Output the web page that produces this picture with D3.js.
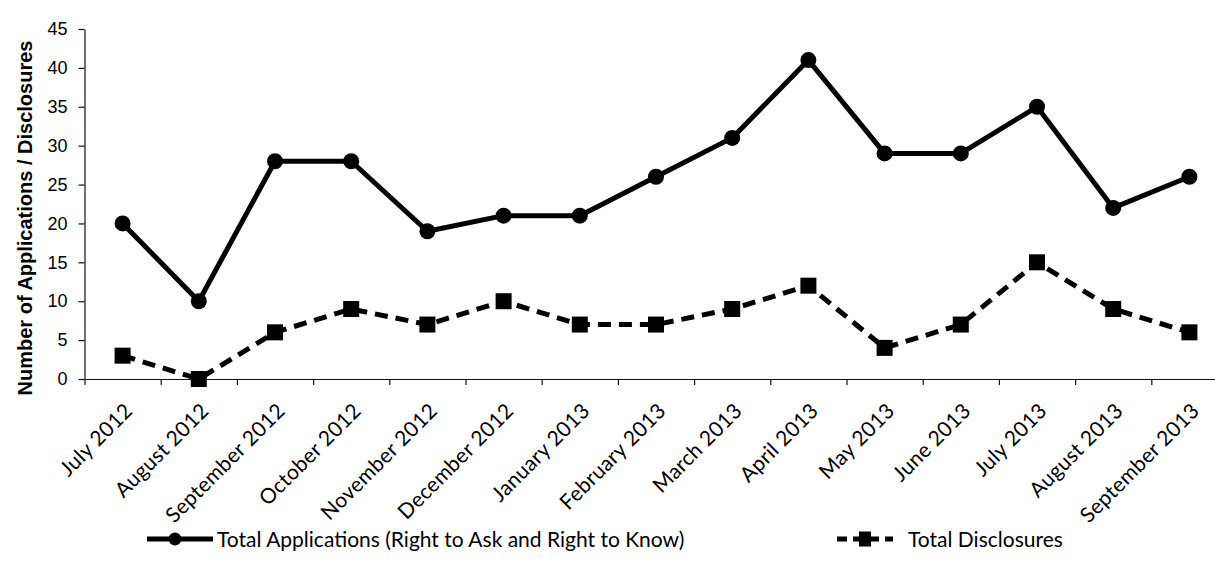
<!DOCTYPE html>
<html>
<head>
<meta charset="utf-8">
<script src="https://cdn.jsdelivr.net/npm/d3@7"></script>
<style>
  html, body { margin: 0; padding: 0; background: #fff; }
  svg { display: block; }
</style>
</head>
<body>
<svg id="chart" width="1215" height="566"></svg>
<script>
// Monthly counts, July 2012 – September 2013
const months = [
  "July 2012", "August 2012", "September 2012", "October 2012", "November 2012",
  "December 2012", "January 2013", "February 2013", "March 2013", "April 2013",
  "May 2013", "June 2013", "July 2013", "August 2013", "September 2013"
];
const applications = [20, 10, 28, 28, 19, 21, 21, 26, 31, 41, 29, 29, 35, 22, 26];
const disclosures = [3, 0, 6, 9, 7, 10, 7, 7, 9, 12, 4, 7, 15, 9, 6];
const yTicks = [0, 5, 10, 15, 20, 25, 30, 35, 40, 45];
const yTitle = "Number of Applications / Disclosures";
const legendLabels = ["Total Applications (Right to Ask and Right to Know)", "Total Disclosures"];

const svg = d3.select("#chart");
const step = 76.2;
const plotLeft = 84.5, plotTop = 29, plotBottom = 379;

const x = d3.scaleBand().domain(months).range([plotLeft, plotLeft + step * months.length]).padding(0);
const xEdge = d3.scaleLinear().domain([0, months.length]).range([plotLeft, plotLeft + step * months.length]);
const y = d3.scaleLinear().domain([0, 45]).range([plotBottom, plotTop]);
const cx = d => x(d) + x.bandwidth() / 2;

const labelFont = "Lato, 'Open Sans', sans-serif";
const axisFont = "'Liberation Sans', Arial, sans-serif";

// y axis
const yAxis = svg.append("g")
  .attr("transform", `translate(${plotLeft},0)`)
  .call(d3.axisLeft(y).tickValues(yTicks).tickSize(6).tickSizeOuter(0).tickPadding(11));
yAxis.select(".domain").attr("stroke", "#111").attr("stroke-width", 1.2);
yAxis.selectAll(".tick line").attr("stroke", "#111").attr("stroke-width", 1.2);
yAxis.selectAll(".tick text")
  .attr("font-family", axisFont).attr("font-size", 18).attr("fill", "#000");

// x axis line with ticks at category boundaries
const xAxis = svg.append("g")
  .attr("transform", `translate(0,${plotBottom})`)
  .call(d3.axisBottom(xEdge).tickValues(d3.range(months.length + 1)).tickSize(6).tickSizeOuter(0).tickFormat(""));
xAxis.select(".domain").attr("stroke", "#111").attr("stroke-width", 1.2);
xAxis.selectAll(".tick line").attr("stroke", "#111").attr("stroke-width", 1.2);

// rotated month labels
svg.append("g").selectAll("text")
  .data(months)
  .join("text")
  .attr("transform", d => `translate(${cx(d) + 6},${407}) rotate(-45)`)
  .attr("text-anchor", "end")
  .attr("dy", "0.35em")
  .attr("font-family", labelFont)
  .attr("font-size", 21)
  .attr("letter-spacing", "0.3px")
  .attr("fill", "#000")
  .text(d => d);

// y axis title
svg.append("text")
  .attr("transform", `translate(32,${(plotTop + plotBottom) / 2 + 14}) rotate(-90)`)
  .attr("text-anchor", "middle")
  .attr("font-family", axisFont)
  .attr("font-weight", "bold")
  .attr("font-size", 20)
  .attr("fill", "#000")
  .text(yTitle);

// series lines
const line = d3.line().x((d, i) => cx(months[i])).y(d => y(d));

svg.append("path")
  .datum(disclosures)
  .attr("d", line)
  .attr("fill", "none")
  .attr("stroke", "#000")
  .attr("stroke-width", 5)
  .attr("stroke-dasharray", "13,8");

svg.append("g").selectAll("rect")
  .data(disclosures)
  .join("rect")
  .attr("x", (d, i) => cx(months[i]) - 8)
  .attr("y", d => y(d) - 8)
  .attr("width", 16)
  .attr("height", 16)
  .attr("fill", "#000");

svg.append("path")
  .datum(applications)
  .attr("d", line)
  .attr("fill", "none")
  .attr("stroke", "#000")
  .attr("stroke-width", 5)
  .attr("stroke-linejoin", "round");

svg.append("g").selectAll("circle")
  .data(applications)
  .join("circle")
  .attr("cx", (d, i) => cx(months[i]))
  .attr("cy", d => y(d))
  .attr("r", 8)
  .attr("fill", "#000");

// legend
const ly = 539;
const lg = svg.append("g");
lg.append("line").attr("x1", 147).attr("x2", 213).attr("y1", ly).attr("y2", ly)
  .attr("stroke", "#000").attr("stroke-width", 5);
lg.append("circle").attr("cx", 175).attr("cy", ly).attr("r", 6.5).attr("fill", "#000");
lg.append("text").attr("x", 217).attr("y", ly).attr("dy", "0.36em")
  .attr("font-family", labelFont).attr("font-size", 21).attr("fill", "#000")
  .text(legendLabels[0]);

lg.append("line").attr("x1", 837).attr("x2", 893).attr("y1", ly).attr("y2", ly)
  .attr("stroke", "#000").attr("stroke-width", 5).attr("stroke-dasharray", "10,6");
lg.append("rect").attr("x", 859).attr("y", ly - 7.5).attr("width", 12).attr("height", 15).attr("fill", "#000");
lg.append("text").attr("x", 908).attr("y", ly).attr("dy", "0.36em")
  .attr("font-family", labelFont).attr("font-size", 21).attr("fill", "#000")
  .text(legendLabels[1]);
</script>
</body>
</html>
